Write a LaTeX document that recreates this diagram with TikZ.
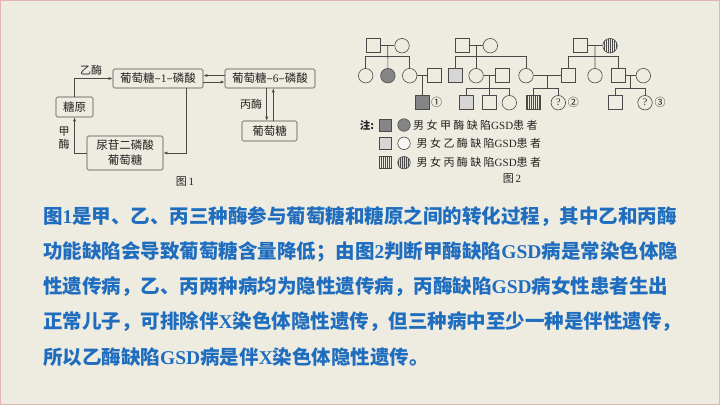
\documentclass[tikz,border=0pt]{standalone}
\usepackage{fontspec}
\setmainfont{Liberation Serif}
\newfontfamily\cjk{Noto Sans CJK SC}
\newfontfamily\lat{Liberation Serif}
\usetikzlibrary{arrows.meta,calc}
\definecolor{bgc}{HTML}{EEEBE0}
\definecolor{framec}{HTML}{E3B5B0}
\definecolor{txtblue}{HTML}{1F6DBF}
\definecolor{lc}{HTML}{4A4A4A}
\definecolor{dkc}{HTML}{858585}
\definecolor{ltc}{HTML}{D6D6D6}
\definecolor{figtxt}{HTML}{222222}
\newcommand{\latw}[1]{{\lat #1}}
\newcommand{\sk}{\kern2.4pt}
\begin{document}
\begin{tikzpicture}[x=1pt,y=-1pt,
  fbox/.style={draw=lc, rounded corners=1.5pt, line width=0.6pt, inner sep=0pt,
    font=\cjk\fontsize{11.5}{15}\selectfont, text=figtxt, align=center},
  lbl/.style={inner sep=0pt, font=\cjk\fontsize{11}{12.5}\selectfont, text=figtxt, align=center},
  arr/.style={draw=lc, line width=0.6pt, -{Latex[length=4pt,width=3pt]}},
  pl/.style={draw=lc, line width=0.6pt},
  pm/.style={draw=lc, line width=0.6pt, rectangle, minimum size=14pt, inner sep=0pt},
  pf/.style={draw=lc, line width=0.6pt, circle, minimum size=14.5pt, inner sep=0pt},
  stripes/.style={path picture={\foreach \i in {-6,-4,...,6}
      \draw[lc, line width=0.45pt] ([xshift=\i pt]path picture bounding box.south) -- ([xshift=\i pt]path picture bounding box.north);}},
  qm/.style={font=\lat\fontsize{10}{10}\selectfont, text=figtxt},
  cnum/.style={inner sep=0pt, font=\cjk\fontsize{11}{11}\selectfont, text=figtxt},
  lgd/.style={anchor=west, inner sep=0pt, font=\cjk\fontsize{11}{12}\selectfont, text=figtxt},
  mtext/.style={anchor=west, inner sep=0pt, font=\cjk\bfseries\fontsize{19.5}{22}\selectfont, text=txtblue}
]
\fill[bgc] (0,0) rectangle (720,405);
\draw[framec, line width=1pt] (0.5,0.5) rectangle (719.5,404.5);
\useasboundingbox (0,0) rectangle (720,405);

% ---------- Figure 1 ----------
\node[fbox, minimum width=90pt, minimum height=19pt] (g1p) at (158,78.5) {葡萄糖–\latw{1}–磷酸};
\node[fbox, minimum width=90pt, minimum height=19pt] (g6p) at (270,78.5) {葡萄糖–\latw{6}–磷酸};
\node[fbox, minimum width=37pt, minimum height=20pt] (ty) at (74.5,107) {糖原};
\node[fbox, minimum width=55pt, minimum height=20pt] (glc) at (269.5,131) {葡萄糖};
\node[fbox, minimum width=76pt, minimum height=34pt] (udpg) at (125,153) {尿苷二磷酸\\葡萄糖};
\node[lbl] (ly) at (91,70) {乙酶};
\node[lbl] (lb) at (251,104) {丙酶};
\node[lbl, font=\cjk\fontsize{11}{13}\selectfont] (lj) at (64,138) {甲\\酶};
\node[lbl] (f1) at (185,182) {图\,\latw{1}};

\draw[arr] (ty.north) |- (g1p.west);
\draw[arr] ([xshift=-17pt]g1p.south east) |- (udpg.east);
\draw[arr] (udpg.west) -| (ty.south);
\draw[arr] ([yshift=3pt]g6p.west) -- ([yshift=3pt]g1p.east);
\draw[arr] ([yshift=-3.5pt]g1p.east) -- ([yshift=-3.5pt]g6p.west);
\draw[arr] ([xshift=-3.3pt]g6p.south) -- ([xshift=-3.3pt]g6p.south |- glc.north);
\draw[arr] ([xshift=3.3pt]g6p.south |- glc.north) -- ([xshift=3.3pt]g6p.south);

% ---------- Figure 2 (pedigree) ----------
\coordinate (barI) at (0,56);
\coordinate (barII) at (0,88.3);
% family A
\node[pm] (a1) at (373.7,45.7) {};
\node[pf] (a2) at (402,45.7) {};
\node[pf] (a3) at (365.7,75.7) {};
\node[pf, fill=dkc] (a4) at (387.85,75.7) {};
\node[pf] (a5) at (409.7,75.7) {};
\node[pm] (a6) at (434.3,75.7) {};
\node[pm, fill=dkc] (a7) at (422.1,102.7) {};
\node[cnum] (n1) at (436.7,102.7) {①};
\draw[pl] (a1) -- (a2);
\coordinate (am) at ($(a1.east)!0.5!(a2.west)$);
\draw[pl] (am) -- (a4.north);
\draw[pl] (a3.north) -- (a3.north |- barI) -| (a5.north);
\draw[pl] (a5) -- (a6);
\coordinate (am2) at ($(a5.east)!0.5!(a6.west)$);
\draw[pl] (am2) -- (am2 |- a7.north);
% family B
\node[pm] (b1) at (462,45.7) {};
\node[pf] (b2) at (490.3,45.7) {};
\node[pm, fill=ltc] (b3) at (455.7,75.7) {};
\node[pf] (b4) at (476.1,75.7) {};
\node[pf] (b5) at (526,75.7) {};
\node[pm] (b6) at (502.3,75.7) {};
\node[pm, fill=ltc] (b7) at (466.7,102.7) {};
\node[pm] (b8) at (489.3,102.7) {};
\node[pf] (b9) at (509.3,102.7) {};
\draw[pl] (b1) -- (b2);
\coordinate (bm) at ($(b1.east)!0.5!(b2.west)$);
\draw[pl] (bm) -- (bm |- barI);
\draw[pl] (b3.north) -- (b3.north |- barI) -| (b5.north);
\draw[pl] (b4.north) -- (b4.north |- barI);
\draw[pl] (b4) -- (b6);
\coordinate (bm2) at ($(b4.east)!0.5!(b6.west)$);
\draw[pl] (bm2) -- (bm2 |- barII);
\draw[pl] (b7.north) -- (b7.north |- barII) -| (b9.north);
\draw[pl] (b8.north) -- (b8.north |- barII);
% family C
\node[pm] (c1) at (580.3,45.7) {};
\node[pf, stripes] (c2) at (610,45.7) {};
\node[pm] (c3) at (568.3,75.7) {};
\node[pf] (c4) at (595,75.7) {};
\node[pm] (c5) at (618.3,75.7) {};
\node[pf] (c6) at (643.3,75.7) {};
\draw[pl] (c1) -- (c2);
\coordinate (cm) at ($(c1.east)!0.5!(c2.west)$);
\draw[pl] (cm) -- (c4.north);
\draw[pl] (c3.north) -- (c3.north |- barI) -| (c5.north);
% B5 x C3
\node[pm, stripes] (d1) at (533.3,102.7) {};
\node[pf, qm] (d2) at (558.3,102.7) {?};
\node[cnum] (n2) at (573.3,102.7) {②};
\draw[pl] (b5) -- (c3);
\coordinate (dm) at ($(b5.east)!0.5!(c3.west)$);
\draw[pl] (dm) -- (dm |- barII);
\draw[pl] (d1.north) -- (d1.north |- barII) -| (d2.north);
% C5 x C6
\node[pm] (e1) at (615,102.7) {};
\node[pf, qm] (e2) at (645,102.7) {?};
\node[cnum] (n3) at (660,102.7) {③};
\draw[pl] (c5) -- (c6);
\coordinate (em) at ($(c5.east)!0.5!(c6.west)$);
\draw[pl] (em) -- (em |- barII);
\draw[pl] (e1.north) -- (e1.north |- barII) -| (e2.north);

% legend
\node[inner sep=0pt, font=\cjk\bfseries\fontsize{10.5}{12}\selectfont, text=figtxt] (zhu) at (367,125) {注:};
\node[pm, minimum size=12pt, fill=dkc] (ls1) at (385,125) {};
\node[pf, minimum size=12.5pt, fill=dkc] (lc1) at (404,125) {};
\node[lgd] (lt1) at (413,125) {男\sk 女\sk 甲\sk 酶\sk 缺\sk 陷\latw{GSD}患\sk 者};
\node[pm, minimum size=12pt, fill=ltc] (ls2) at (385,143.3) {};
\node[pf, minimum size=12.5pt, fill=white!60!bgc] (lc2) at (404,143.3) {};
\node[lgd] (lt2) at (416.5,143.3) {男\sk 女\sk 乙\sk 酶\sk 缺\sk 陷\latw{GSD}患\sk 者};
\node[pm, minimum size=12pt, stripes] (ls3) at (385,162.7) {};
\node[pf, minimum size=12.5pt, fill=ltc, stripes] (lc3) at (404,162.7) {};
\node[lgd] (lt3) at (416.5,162.7) {男\sk 女\sk 丙\sk 酶\sk 缺\sk 陷\latw{GSD}患\sk 者};
\node[lbl] (f2) at (512,179) {图\,\latw{2}};

% ---------- explanation text ----------
\node[mtext] (l1) at (43,217) {图\latw{1}是甲、乙、丙三种酶参与葡萄糖和糖原之间的转化过程，其中乙和丙酶};
\node[mtext] (l2) at (43,252) {功能缺陷会导致葡萄糖含量降低；由图\latw{2}判断甲酶缺陷\latw{GSD}病是常染色体隐};
\node[mtext] (l3) at (43,287) {性遗传病，乙、丙两种病均为隐性遗传病，丙酶缺陷\latw{GSD}病女性患者生出};
\node[mtext] (l4) at (43,322) {正常儿子，可排除伴\latw{X}染色体隐性遗传，但三种病中至少一种是伴性遗传，};
\node[mtext] (l5) at (43,357) {所以乙酶缺陷\latw{GSD}病是伴\latw{X}染色体隐性遗传。};
\end{tikzpicture}
\end{document}
